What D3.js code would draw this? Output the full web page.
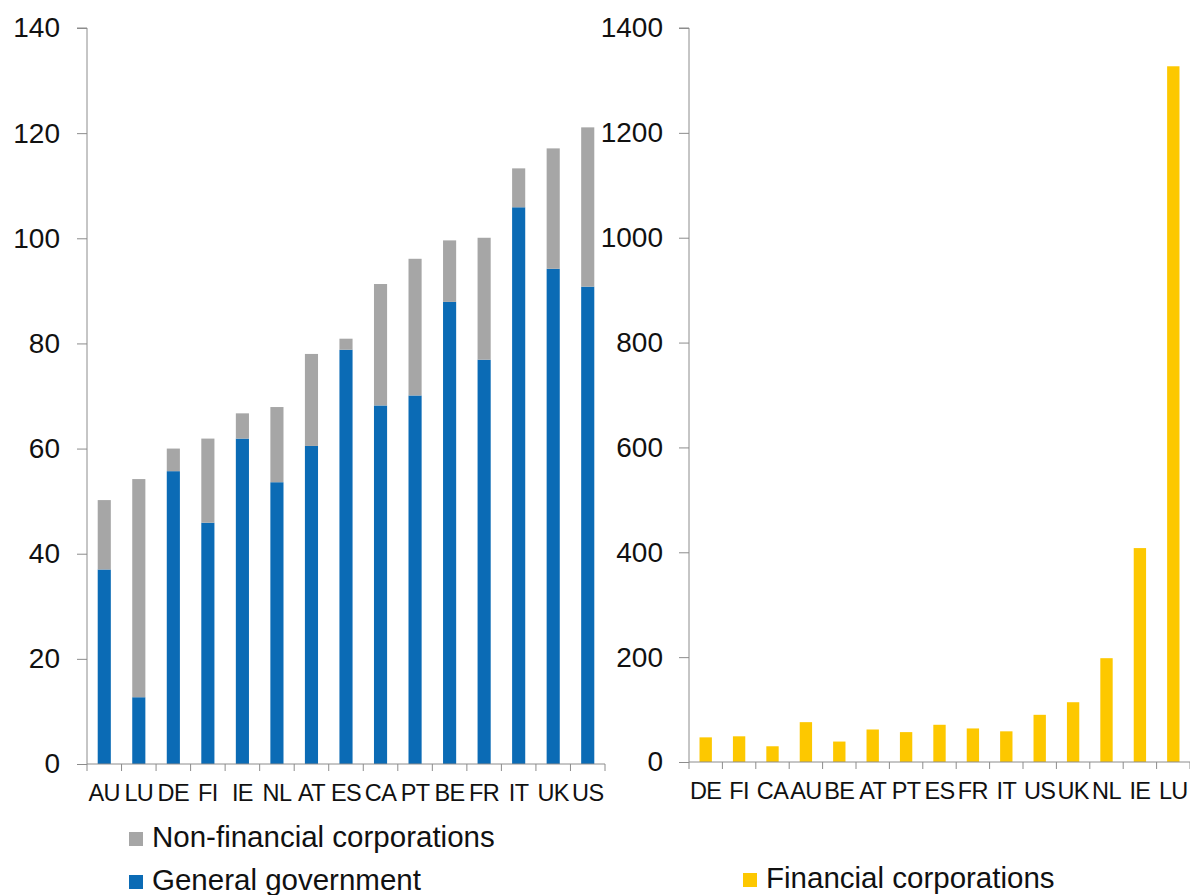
<!DOCTYPE html>
<html>
<head>
<meta charset="utf-8">
<script src="https://cdn.jsdelivr.net/npm/d3@7/dist/d3.min.js"></script>
<style>
  html, body { margin: 0; padding: 0; background: #fff; }
  svg { display: block; font-family: "Liberation Sans", Arial, sans-serif; }
</style>
</head>
<body>
<svg id="chart" width="1190" height="895"></svg>
<script>
// ---- Data ----
const leftCategories = ["AU","LU","DE","FI","IE","NL","AT","ES","CA","PT","BE","FR","IT","UK","US"];
const generalGovernment = [37.0, 12.7, 55.7, 45.9, 61.9, 53.6, 60.5, 78.8, 68.2, 70.1, 87.9, 76.9, 105.9, 94.2, 90.8];
const nonFinancialCorps = [13.2, 41.5, 4.3, 16.0, 4.8, 14.3, 17.5, 2.1, 23.1, 26.0, 11.7, 23.2, 7.4, 22.9, 30.3];
const leftTicks = [0, 20, 40, 60, 80, 100, 120, 140];

const rightCategories = ["DE","FI","CA","AU","BE","AT","PT","ES","FR","IT","US","UK","NL","IE","LU"];
const financialCorps = [47, 49, 30, 76, 39, 62, 57, 71, 64, 58.5, 90, 114, 198, 408, 1327];
const rightTicks = [0, 200, 400, 600, 800, 1000, 1200, 1400];

const seriesNames = ["General government", "Non-financial corporations", "Financial corporations"];
const colors = { gg: "#0B6BB5", nfc: "#A6A6A6", fc: "#FDC800" };
const axisColor = "#8C8C8C";

const svg = d3.select("#chart");

function drawPanel(opts) {
  const { x0, x1, yBottom, yTop, domainMax, categories, ticks } = opts;
  const x = d3.scaleBand().domain(categories).range([x0, x1])
    .paddingInner(opts.pad).paddingOuter(opts.pad / 2);
  const y = d3.scaleLinear().domain([0, domainMax]).range([yBottom, yTop]);
  const g = svg.append("g");

  // y axis
  const yAxis = d3.axisLeft(y).tickValues(ticks).tickFormat(d3.format("d"))
    .tickSize(10).tickPadding(opts.tickPad);
  const ya = g.append("g").attr("transform", `translate(${x0},0)`).call(yAxis);
  ya.select(".domain").attr("stroke", axisColor).attr("d", `M-10,${y(domainMax)}H0V${y(0)}`);
  ya.selectAll(".tick line").attr("stroke", axisColor);
  ya.selectAll(".tick text").attr("font-size", 28).attr("fill", "#111")
    .attr("font-family", "Liberation Sans, Arial, sans-serif");

  // x axis labels
  const xAxis = d3.axisBottom(x).tickSize(0).tickPadding(20);
  const xa = g.append("g").attr("transform", `translate(0,${y(0)})`).call(xAxis);
  xa.select(".domain").remove();
  xa.selectAll(".tick text").attr("font-size", 23.5).attr("fill", "#111")
    .attr("letter-spacing", "-0.6px")
    .attr("font-family", "Liberation Sans, Arial, sans-serif");

  // x axis line + boundary ticks
  const step = x.step();
  const bounds = d3.range(categories.length + 1).map(i => x0 + i * step);
  g.append("line").attr("x1", x0).attr("x2", x1).attr("y1", y(0)).attr("y2", y(0))
    .attr("stroke", axisColor).attr("stroke-width", 1);
  g.selectAll(".bt").data(bounds).join("line")
    .attr("x1", d => d).attr("x2", d => d)
    .attr("y1", y(0)).attr("y2", y(0) + 7)
    .attr("stroke", axisColor);

  return { g, x, y };
}

// ---- Left panel (stacked) ----
const L = drawPanel({ x0: 87, x1: 605, yBottom: 764, yTop: 28, domainMax: 140,
  categories: leftCategories, ticks: leftTicks, pad: 0.62, tickPad: 17 });

const leftRows = leftCategories.map((c, i) => ({ cat: c, gg: generalGovernment[i], nfc: nonFinancialCorps[i] }));
const stack = d3.stack().keys(["gg", "nfc"])(leftRows);
L.g.insert("g", ":first-child").selectAll("g").data(stack).join("g")
  .attr("fill", d => colors[d.key])
  .selectAll("rect").data(d => d).join("rect")
  .attr("x", d => L.x(d.data.cat))
  .attr("width", L.x.bandwidth())
  .attr("y", d => L.y(d[1]))
  .attr("height", d => L.y(d[0]) - L.y(d[1]));

// ---- Right panel ----
const R = drawPanel({ x0: 689, x1: 1190, yBottom: 762, yTop: 28, domainMax: 1400,
  categories: rightCategories, ticks: rightTicks, pad: 0.63, tickPad: 16 });

R.g.insert("g", ":first-child").selectAll("rect")
  .data(rightCategories.map((c, i) => ({ cat: c, v: financialCorps[i] })))
  .join("rect")
  .attr("fill", colors.fc)
  .attr("x", d => R.x(d.cat))
  .attr("width", R.x.bandwidth())
  .attr("y", d => R.y(d.v))
  .attr("height", d => R.y(0) - R.y(d.v));

// ---- Legends ----
const legendItems = [
  { name: seriesNames[1], color: colors.nfc, x: 129, y: 847 },
  { name: seriesNames[0], color: colors.gg, x: 129, y: 890 },
  { name: seriesNames[2], color: colors.fc, x: 743, y: 888 }
];
const lg = svg.append("g");
legendItems.forEach(it => {
  lg.append("rect").attr("x", it.x).attr("y", it.y - 15).attr("width", 14).attr("height", 14)
    .attr("fill", it.color);
  lg.append("text").attr("x", it.x + 23).attr("y", it.y)
    .attr("font-size", 29.5).attr("fill", "#111").text(it.name);
});
</script>
</body>
</html>
